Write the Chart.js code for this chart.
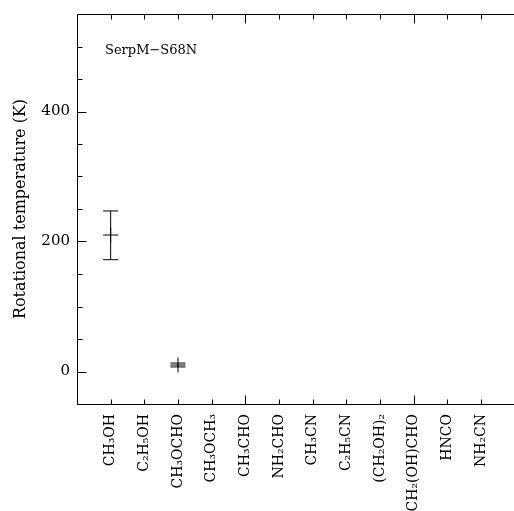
<!DOCTYPE html>
<html>
<head>
<meta charset="utf-8">
<script src="https://cdn.jsdelivr.net/npm/chart.js@4.4.1/dist/chart.umd.min.js"></script>
<style>
  html, body { margin: 0; padding: 0; background: #fff; overflow: hidden; }
  canvas { display: block; }
</style>
</head>
<body>
<canvas id="c" width="514" height="511"></canvas>
<script>
// ---- data ----
const categories = ['CH₃OH', 'C₂H₅OH', 'CH₃OCHO', 'CH₃OCH₃', 'CH₃CHO', 'NH₂CHO',
                    'CH₃CN', 'C₂H₅CN', '(CH₂OH)₂', 'CH₂(OH)CHO', 'HNCO', 'NH₂CN'];
const temperature = [210, null, 10, null, null, null, null, null, null, null, null, null];
const errLower    = [38,  null, 3,  null, null, null, null, null, null, null, null, null];
const errUpper    = [37,  null, 3,  null, null, null, null, null, null, null, null, null];
const yTickLabels = [0, 200, 400];
const sourceName = 'SerpM−S68N';

// ---- build datasets from arrays ----
const markerData = [];
const errData = [];
temperature.forEach((t, i) => {
  if (t === null) return;
  markerData.push({ x: i + 1, y: t });
  errData.push({ x: i + 1, y: t - errLower[i] });
  errData.push({ x: i + 1, y: t + errUpper[i] });
  errData.push({ x: i + 1, y: null });
});

const FONT = '"DejaVu Serif", serif';

const frameTicks = {
  id: 'frameTicks',
  afterDraw(chart) {
    const { ctx, chartArea: a, scales } = chart;
    const xs = scales.x, ys = scales.y;
    ctx.save();
    ctx.strokeStyle = '#000';
    ctx.lineWidth = 1;
    ctx.beginPath();
    const L = Math.round(a.left) + 0.5, T = Math.round(a.top) + 0.5, B = Math.round(a.bottom) + 0.5;
    ctx.moveTo(a.right + 20, T); ctx.lineTo(L, T); ctx.lineTo(L, B); ctx.lineTo(a.right + 20, B);
    ys.ticks.forEach(tk => {
      const y = Math.round(ys.getPixelForValue(tk.value)) + 0.5;
      const len = (tk.value % 200 === 0) ? 9 : 5;
      ctx.moveTo(L, y); ctx.lineTo(L + len, y);
    });
    xs.ticks.forEach(tk => {
      const x = Math.round(xs.getPixelForValue(tk.value)) + 0.5;
      const len = (tk.value % 5 === 0) ? 9 : 5;
      ctx.moveTo(x, B); ctx.lineTo(x, B - len);
      ctx.moveTo(x, T); ctx.lineTo(x, T + len);
    });
    ctx.stroke();
    ctx.fillStyle = '#000';
    ctx.font = '13px ' + FONT;
    ctx.textBaseline = 'alphabetic';
    ctx.textAlign = 'left';
    ctx.fillText(sourceName, a.left + 28, a.top + 40);
    ctx.restore();
  }
};

new Chart(document.getElementById('c'), {
  type: 'scatter',
  data: {
    datasets: [
      {
        label: 'error',
        data: errData,
        showLine: true,
        spanGaps: false,
        borderColor: '#000',
        borderWidth: 1,
        pointStyle: 'line',
        pointRadius: 7.5,
        pointBorderWidth: 1,
        pointBorderColor: '#000',
        pointBackgroundColor: '#000'
      },
      {
        label: 'Trot',
        data: markerData,
        pointStyle: 'cross',
        pointRadius: 7.5,
        pointBorderWidth: 1,
        pointBorderColor: '#000',
        pointBackgroundColor: '#000'
      }
    ]
  },
  plugins: [frameTicks],
  options: {
    responsive: false,
    animation: false,
    devicePixelRatio: 1,
    layout: { padding: { top: 14, left: 0, right: -8, bottom: 0 } },
    plugins: { legend: { display: false }, tooltip: { enabled: false } },
    scales: {
      x: {
        type: 'linear',
        min: 0,
        max: 12.73,
        grid: { display: false, drawTicks: false },
        border: { display: false },
        afterBuildTicks: s => { s.ticks = categories.map((c, i) => ({ value: i + 1 })); },
        afterFit: s => { s.height = 107; s.paddingRight = 0; s.paddingLeft = 0; },
        ticks: {
          autoSkip: false,
          minRotation: 90,
          maxRotation: 90,
          padding: 10,
          color: '#000',
          font: { family: FONT, size: 14 },
          callback: v => categories[v - 1]
        }
      },
      y: {
        type: 'linear',
        min: -50,
        max: 550,
        grid: { display: false, drawTicks: false },
        border: { display: false },
        afterFit: s => { s.width = 77; s.paddingTop = 0; s.paddingBottom = 0; },
        ticks: {
          stepSize: 50,
          padding: 7,
          color: '#000',
          font: { family: FONT, size: 15 },
          callback: v => yTickLabels.includes(v) ? String(v) : ''
        },
        title: {
          display: true,
          text: 'Rotational temperature (K)',
          color: '#000',
          font: { family: FONT, size: 16 },
          padding: { top: 11, bottom: 0 }
        }
      }
    }
  }
});
</script>
</body>
</html>
